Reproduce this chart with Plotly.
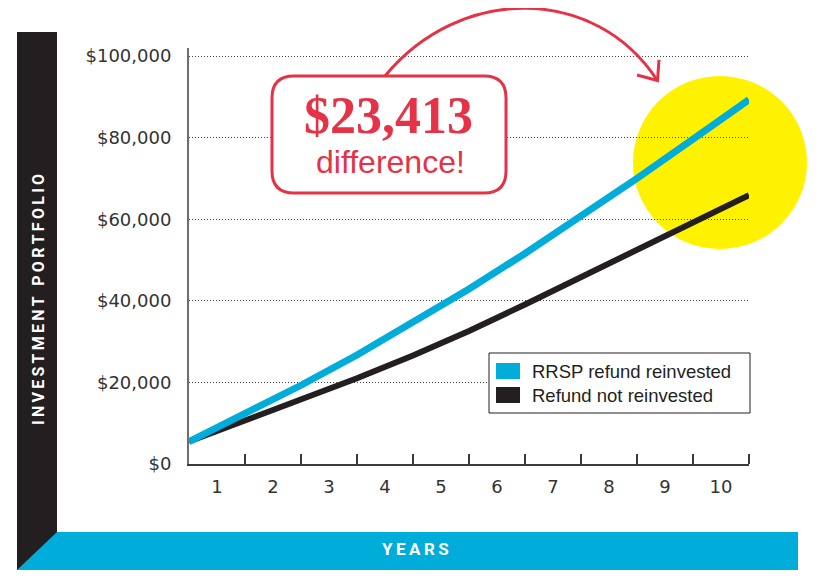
import plotly.graph_objects as go

# data
years = list(range(0, 11))
year_labels = [str(i) for i in range(1, 11)]
reinvested = [5500, 12300, 19300, 26700, 34600, 42900, 51600, 60600, 70000, 79600, 89300]
not_reinvested = [5500, 10600, 15700, 21000, 26600, 32600, 39100, 45800, 52500, 59200, 65900]
series_names = ['RRSP refund reinvested', 'Refund not reinvested']
y_ticks = [0, 20000, 40000, 60000, 80000, 100000]
y_tick_labels = ['$0', '$20,000', '$40,000', '$60,000', '$80,000', '$100,000']
callout_amount = '$23,413'
callout_text = 'difference!'

BLUE = '#00acd9'
BLACK = '#231f20'
RED = '#e63246'
YELLOW = '#fff200'

# the page body has an 8px margin, so the figure sits at (8, 8)
OFF = 8
W, H = 822 - 2 * OFF, 580 - 2 * OFF
# plot area in page pixels
L, R, T, B = 189, 749, 48, 464


def pp(x, y):
    # page pixel -> paper coords
    return (x - L) / (R - L), (B - y) / (B - T)


def pstr(x, y):
    a, b = pp(x, y)
    return '%.4f,%.4f' % (a, b)


def rect(x0, y0, x1, y1, **kw):
    a0, b0 = pp(x0, y1)
    a1, b1 = pp(x1, y0)
    return dict(type='rect', xref='paper', yref='paper', x0=a0, y0=b0, x1=a1, y1=b1, **kw)


def thin(s):
    return '\u2009'.join(s)


fig = go.Figure()
fig.add_trace(go.Scatter(x=years, y=not_reinvested, mode='lines', name=series_names[1],
                         line=dict(color=BLACK, width=6), showlegend=False))
fig.add_trace(go.Scatter(x=years, y=reinvested, mode='lines', name=series_names[0],
                         line=dict(color=BLUE, width=7), showlegend=False))

shapes = []
# yellow highlight circle
cx0, cy0 = pp(633, 249)
cx1, cy1 = pp(807, 76)
shapes.append(dict(type='circle', xref='paper', yref='paper', x0=cx0, y0=cy0, x1=cx1, y1=cy1,
                   fillcolor=YELLOW, line=dict(width=0), layer='below'))
# left black bar and bottom blue bar
shapes.append(rect(17, 32, 57, 570, fillcolor=BLACK, line=dict(width=0), layer='below'))
shapes.append(dict(type='path', xref='paper', yref='paper',
                   path='M%s L%s L%s L%s Z' % (pstr(57, 532), pstr(798, 532), pstr(798, 570), pstr(17, 570)),
                   fillcolor=BLUE, line=dict(width=0), layer='below'))

# callout box
x0, y0, x1, y1, r = 272, 76, 506, 193, 22
box = ('M%s L%s Q%s %s L%s Q%s %s L%s Q%s %s L%s Q%s %s Z' % (
    pstr(x0 + r, y0), pstr(x1 - r, y0), pstr(x1, y0), pstr(x1, y0 + r),
    pstr(x1, y1 - r), pstr(x1, y1), pstr(x1 - r, y1),
    pstr(x0 + r, y1), pstr(x0, y1), pstr(x0, y1 - r),
    pstr(x0, y0 + r), pstr(x0, y0), pstr(x0 + r, y0)))
shapes.append(dict(type='path', xref='paper', yref='paper', path=box,
                   fillcolor='white', line=dict(color=RED, width=3), layer='above'))
# curved arrow
shapes.append(dict(type='path', xref='paper', yref='paper',
                   path='M%s C%s %s %s' % (pstr(385, 76), pstr(460, -15), pstr(595, -15), pstr(657, 80)),
                   line=dict(color=RED, width=3), layer='above'))
shapes.append(dict(type='path', xref='paper', yref='paper',
                   path='M%s L%s L%s' % (pstr(637, 75), pstr(657.5, 80.5), pstr(659, 60)),
                   line=dict(color=RED, width=3), layer='above'))

# legend
shapes.append(rect(489, 353, 750, 413, fillcolor='white', line=dict(color=BLACK, width=1), layer='above'))
shapes.append(rect(496, 363, 520, 379, fillcolor=BLUE, line=dict(width=0), layer='above'))
shapes.append(rect(496, 387, 520, 403, fillcolor=BLACK, line=dict(width=0), layer='above'))

annotations = []
for name, yc in zip(series_names, [371, 395]):
    ax, ay = pp(530, yc)
    annotations.append(dict(x=ax, y=ay, xref='paper', yref='paper', text=name, showarrow=False,
                            xanchor='left', yanchor='middle',
                            font=dict(family='Liberation Sans, Arial', size=18.5, color=BLACK)))

ax, ay = pp(388, 116)
annotations.append(dict(x=ax, y=ay, xref='paper', yref='paper', text='<b>%s</b>' % callout_amount,
                        showarrow=False, xanchor='center', yanchor='middle',
                        font=dict(family='Liberation Serif, Times New Roman', size=52, color=RED)))
ax, ay = pp(390, 162)
annotations.append(dict(x=ax, y=ay, xref='paper', yref='paper', text=callout_text,
                        showarrow=False, xanchor='center', yanchor='middle',
                        font=dict(family='Liberation Sans, Arial', size=32, color=RED)))

# axis titles in the coloured bars
ax, ay = pp(38, 300)
annotations.append(dict(x=ax, y=ay, xref='paper', yref='paper', text='<b>%s</b>' % thin('INVESTMENT PORTFOLIO'),
                        showarrow=False, textangle=-90, xanchor='center', yanchor='middle',
                        font=dict(family='Roboto, Arial', size=16, color='white')))
ax, ay = pp(415, 549)
annotations.append(dict(x=ax, y=ay, xref='paper', yref='paper', text='<b>%s</b>' % thin('YEARS'),
                        showarrow=False, xanchor='center', yanchor='middle',
                        font=dict(family='Roboto, Arial', size=17, color='white')))

y_top = 100000 * (B - T) / 408.0

fig.update_layout(
    width=W, height=H, autosize=False,
    margin=dict(l=L - OFF, r=W + OFF - R, t=T - OFF, b=H + OFF - B, pad=0),
    paper_bgcolor='white', plot_bgcolor='rgba(0,0,0,0)',
    showlegend=False,
    shapes=shapes, annotations=annotations,
    font=dict(family='DejaVu Sans, Arial', color=BLACK),
    xaxis=dict(range=[0, 10], tickmode='array', tickvals=[y + 0.5 for y in years[:-1]],
               ticktext=year_labels, ticks='', showgrid=False, zeroline=False,
               showline=True, linecolor='#3a3a3a', linewidth=2,
               tickfont=dict(size=18, color='#333'), ticklabelstandoff=5,
               minor=dict(tickvals=years[1:], ticks='inside', ticklen=10, tickwidth=1.5,
                          tickcolor='#3a3a3a', showgrid=False)),
    yaxis=dict(range=[0, y_top], tickmode='array', tickvals=y_ticks, ticktext=y_tick_labels,
               ticks='', showgrid=True, gridcolor='#444', gridwidth=1, griddash='1px,2px',
               zeroline=False, showline=True, linecolor='#6d6e70', linewidth=2,
               tickfont=dict(size=18, color='#333'), ticklabelstandoff=12),
)

fig.write_html('out.html')
